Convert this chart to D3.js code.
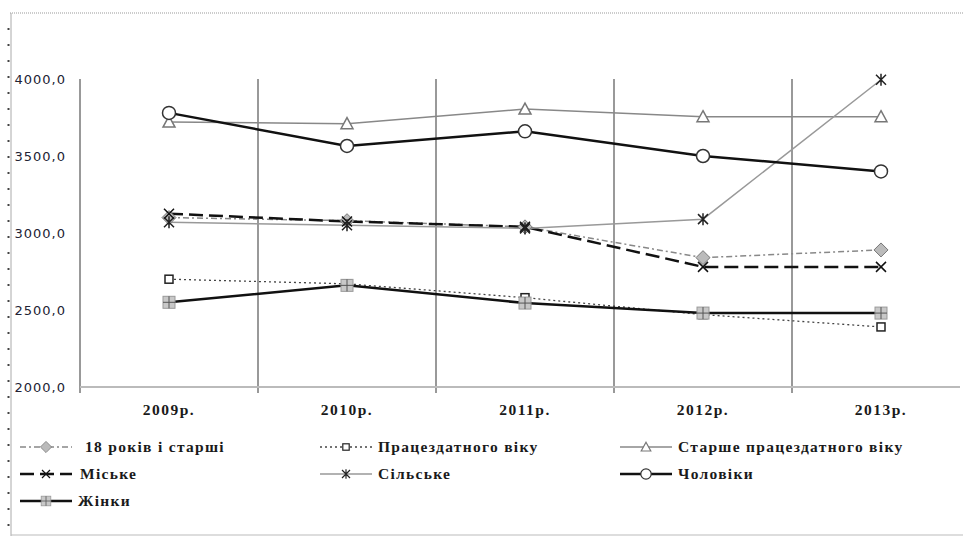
<!DOCTYPE html>
<html><head><meta charset="utf-8">
<script src="https://cdn.jsdelivr.net/npm/d3@7/dist/d3.min.js"></script>
<style>body{margin:0;background:#fff}svg{display:block}</style>
</head><body>
<svg id="c" width="963" height="536"></svg>
<script>
const years = ["2009р.","2010р.","2011р.","2012р.","2013р."];
const yTicks = [2000,2500,3000,3500,4000];
const s18 = [3100,3080,3040,2840,2890];
const sWork = [2700,2670,2580,2470,2390];
const sOld = [3720,3710,3805,3755,3755];
const sUrban = [3125,3075,3040,2780,2780];
const sRural = [3070,3050,3030,3090,3995];
const sMen = [3780,3565,3660,3500,3400];
const sWomen = [2550,2660,2545,2480,2480];
const names = ["18 років і старші","Працездатного віку","Старше працездатного віку","Міське","Сільське","Чоловіки","Жінки"];

const SERIF = "'Liberation Serif', 'Times New Roman', serif";
const svg = d3.select("#c");
const x = d3.scaleBand().domain(years).range([80,970]).padding(0);
const y = d3.scaleLinear().domain([2000,4000]).range([387,79]);

// frame
svg.append("line").attr("x1",10).attr("x2",963).attr("y1",13).attr("y2",13)
  .attr("stroke","#999").attr("stroke-dasharray","1,1");
svg.append("line").attr("x1",11).attr("x2",11).attr("y1",13).attr("y2",536).attr("stroke","#aaa");
svg.append("line").attr("x1",11).attr("x2",963).attr("y1",535).attr("y2",535).attr("stroke","#bbb");
svg.append("g").selectAll("rect").data(d3.range(28,536,16)).join("rect")
  .attr("x",7.5).attr("y",d=>d).attr("width",2).attr("height",2).attr("fill","#444");

// vertical grid lines at band boundaries
svg.append("g").selectAll("line").data(years).join("line")
  .attr("x1",d=>x(d)).attr("x2",d=>x(d)).attr("y1",y(4000)).attr("y2",393)
  .attr("stroke","#777").attr("stroke-width",1.5);
// baseline
svg.append("line").attr("x1",80).attr("x2",960).attr("y1",y(2000)).attr("y2",y(2000))
  .attr("stroke","#bbb").attr("stroke-width",2);

// y axis
const ya = svg.append("g").attr("transform","translate(80,0)")
  .call(d3.axisLeft(y).tickValues(yTicks).tickSize(0).tickPadding(14)
    .tickFormat(d=>d3.format(".1f")(d).replace(".",",")));
ya.select(".domain").remove();
ya.selectAll("text").style("font-family","'DejaVu Sans', sans-serif").style("font-size","13px")
  .attr("letter-spacing","1px").attr("fill","#223");

// x axis labels
const xa = svg.append("g").attr("transform",`translate(0,${y(2000)})`)
  .call(d3.axisBottom(x).tickSize(0).tickPadding(17));
xa.select(".domain").remove();
xa.selectAll("text").style("font-family",SERIF).style("font-size","15.5px").style("font-weight","bold")
  .attr("letter-spacing","1.5px").attr("fill","#1a1a1a");

const cx = d => x(d)+x.bandwidth()/2;

// marker drawers
function mDiamond(g){ g.append("path").attr("d","M0,-7L7,0L0,7L-7,0Z").attr("fill","#bbb").attr("stroke","#777").attr("stroke-width",1); }
function mSquare(g){ g.append("rect").attr("x",-4).attr("y",-4).attr("width",8).attr("height",8).attr("fill","#fff").attr("stroke","#222").attr("stroke-width",1.5); }
function mTri(g){ g.append("path").attr("d","M0,-6L6,5L-6,5Z").attr("fill","#fff").attr("stroke","#777").attr("stroke-width",1.5); }
function mX(g){ g.append("path").attr("d","M-5,-5L5,5M5,-5L-5,5").attr("stroke","#111").attr("stroke-width",1.5); }
function mStar(g){ g.append("path").attr("d","M-5,-5L5,5M5,-5L-5,5M0,-6L0,6").attr("stroke","#222").attr("stroke-width",1.5); }
function mCircle(g){ g.append("circle").attr("r",6.5).attr("fill","#fff").attr("stroke","#333").attr("stroke-width",1.5); }
function mPlusSq(g){ g.append("rect").attr("x",-6).attr("y",-6).attr("width",12).attr("height",12).attr("fill","#c8c8c8").attr("stroke","#999");
  g.append("path").attr("d","M-6,0L6,0M0,-6L0,6").attr("stroke","#555").attr("stroke-width",1); }

const series = [
  {name:names[0], vals:s18, stroke:"#888", w:1.5, dash:"6,3,2,3", m:mDiamond},
  {name:names[1], vals:sWork, stroke:"#444", w:1.3, dash:"2,3", m:mSquare},
  {name:names[2], vals:sOld, stroke:"#888", w:1.5, dash:null, m:mTri},
  {name:names[3], vals:sUrban, stroke:"#111", w:2.5, dash:"14,6", m:mX},
  {name:names[4], vals:sRural, stroke:"#999", w:1.5, dash:null, m:mStar},
  {name:names[5], vals:sMen, stroke:"#111", w:2.5, dash:null, m:mCircle},
  {name:names[6], vals:sWomen, stroke:"#111", w:2.5, dash:null, m:mPlusSq}
];

const line = d3.line().x((v,i)=>cx(years[i])).y(v=>y(v));
series.forEach(s=>{
  svg.append("path").attr("d",line(s.vals)).attr("fill","none")
    .attr("stroke",s.stroke).attr("stroke-width",s.w).attr("stroke-dasharray",s.dash);
});
series.forEach(s=>{
  s.vals.forEach((v,i)=>{
    const g = svg.append("g").attr("transform",`translate(${cx(years[i])},${y(v)})`);
    s.m(g);
  });
});

// legend
const colX = [20,320,620];
const rowY = [447,474,501];
const txtOff = [65,58,58,60,58,58,58];
series.forEach((s,i)=>{
  const col = i%3, row = Math.floor(i/3);
  const g = svg.append("g").attr("transform",`translate(${colX[col]},${rowY[row]})`);
  g.append("line").attr("x1",0).attr("x2",52).attr("y1",0).attr("y2",0)
    .attr("stroke",s.stroke).attr("stroke-width",s.w).attr("stroke-dasharray",s.dash);
  const mg = g.append("g").attr("transform","translate(26,0) scale(0.8)");
  s.m(mg);
  g.append("text").attr("x",txtOff[i]).attr("y",5).text(s.name)
    .style("font-family",SERIF).style("font-size","15.5px").style("font-weight","bold")
    .attr("letter-spacing","1.3px").attr("fill","#1a1a1a");
});
</script>
</body></html>
